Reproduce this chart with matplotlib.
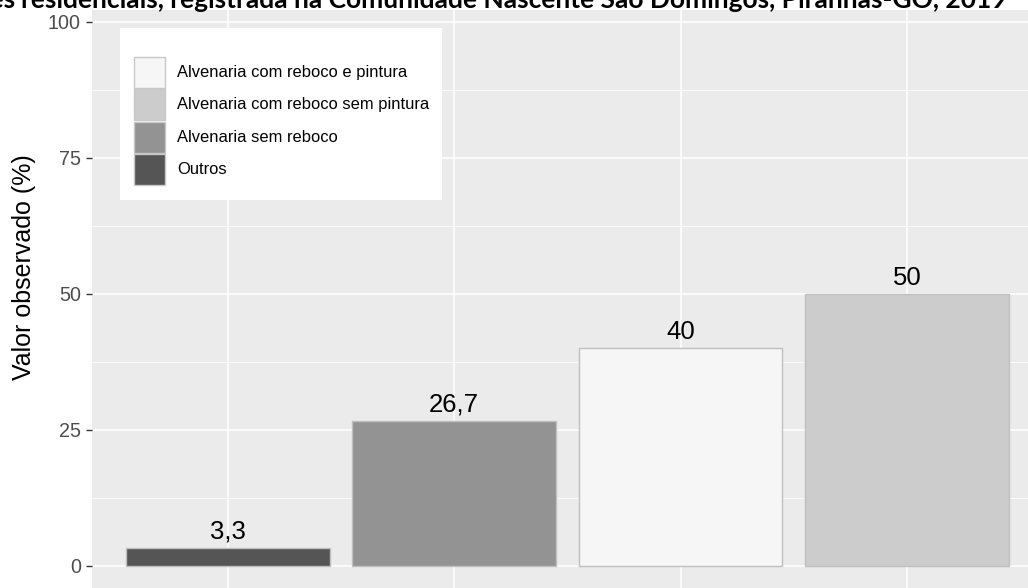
import matplotlib
matplotlib.use("Agg")
import matplotlib.pyplot as plt
from matplotlib.patches import Rectangle

# data
categorias = ["Outros", "Alvenaria sem reboco",
              "Alvenaria com reboco e pintura", "Alvenaria com reboco sem pintura"]
valores = [3.3, 26.7, 40, 50]
cores = ["#555555", "#939393", "#F6F6F6", "#CCCCCC"]
ordem_legenda = ["Alvenaria com reboco e pintura", "Alvenaria com reboco sem pintura",
                 "Alvenaria sem reboco", "Outros"]
y_ticks = [0, 25, 50, 75, 100]

W, H = 1028, 588
plt.rcParams['font.family'] = ['Liberation Sans', 'DejaVu Sans']

fig = plt.figure(figsize=(W / 100, H / 100), dpi=100)


def fx(x):
    return x / W


def fy(y):
    return 1 - y / H


# panel placed in pixel coords (it runs off the right and bottom edges)
left, right, top, bottom = 91.9, 1042.8, 10, 593
ax = fig.add_axes([fx(left), fy(bottom), fx(right - left), (bottom - top) / H])
ax.set_facecolor("#EBEBEB")
for s in ax.spines.values():
    s.set_visible(False)

x = range(len(categorias))
ax.bar(x, valores, width=0.9, color=cores, edgecolor="#BFBFBF", linewidth=1.0, zorder=3)
for xi, v in zip(x, valores):
    ax.annotate(f"{v:g}".replace(".", ","), (xi, v), xytext=(0, 6.5),
                textcoords="offset points", ha="center", va="baseline",
                fontsize=18.5, color="black", zorder=4)

ax.set_xlim(-0.6, 3.6)
ax.set_ylim(-5, 102.2)
ax.set_xticks(list(x))
ax.set_xticklabels([])
ax.set_yticks(y_ticks)
ax.set_yticks([12.5, 37.5, 62.5, 87.5], minor=True)
ax.tick_params(axis="y", which="major", length=4.5, width=1, color="#333333",
               labelsize=14.2, labelcolor="#4D4D4D", pad=3.5)
ax.tick_params(axis="y", which="minor", length=0)
ax.tick_params(axis="x", length=0)
ax.grid(which="major", color="white", linewidth=1.1, zorder=0)
ax.grid(which="minor", axis="y", color="white", linewidth=0.55, zorder=0)
ax.set_axisbelow(True)

fig.text(fx(24), fy(267), "Valor observado (%)", rotation=90, ha="center",
         va="center", fontsize=18, color="black")

# title (cut off at the top in the reference)
tkw = dict(fontsize=19, fontweight="bold", family=["Lato", "DejaVu Sans"],
           va="baseline", color="black")
fig.text(fx(21), fy(7.5), "residenciais, registrada na Comunidade Nascente São Domingos, "
         "Piranhas-GO, 2019", ha="left", **tkw)
fig.text(fx(15), fy(7.5), "edificações", ha="right", **tkw)

# legend box
fig.add_artist(Rectangle((fx(120), fy(200)), fx(322), 172 / H, transform=fig.transFigure,
                         facecolor="white", edgecolor="none", zorder=5))
cor_de = dict(zip(categorias, cores))
for i, nome in enumerate(ordem_legenda):
    y0 = 56 + i * 32.5
    fig.add_artist(Rectangle((fx(133.5), fy(y0 + 31.5)), fx(31.5), 31 / H,
                             transform=fig.transFigure, facecolor=cor_de[nome],
                             edgecolor="#C8C8C8", linewidth=1.0, zorder=6))
    fig.text(fx(177), fy(y0 + 16.5), nome, ha="left", va="center", fontsize=11.9,
             color="black", zorder=7)

fig.savefig("out.png", dpi=100)
